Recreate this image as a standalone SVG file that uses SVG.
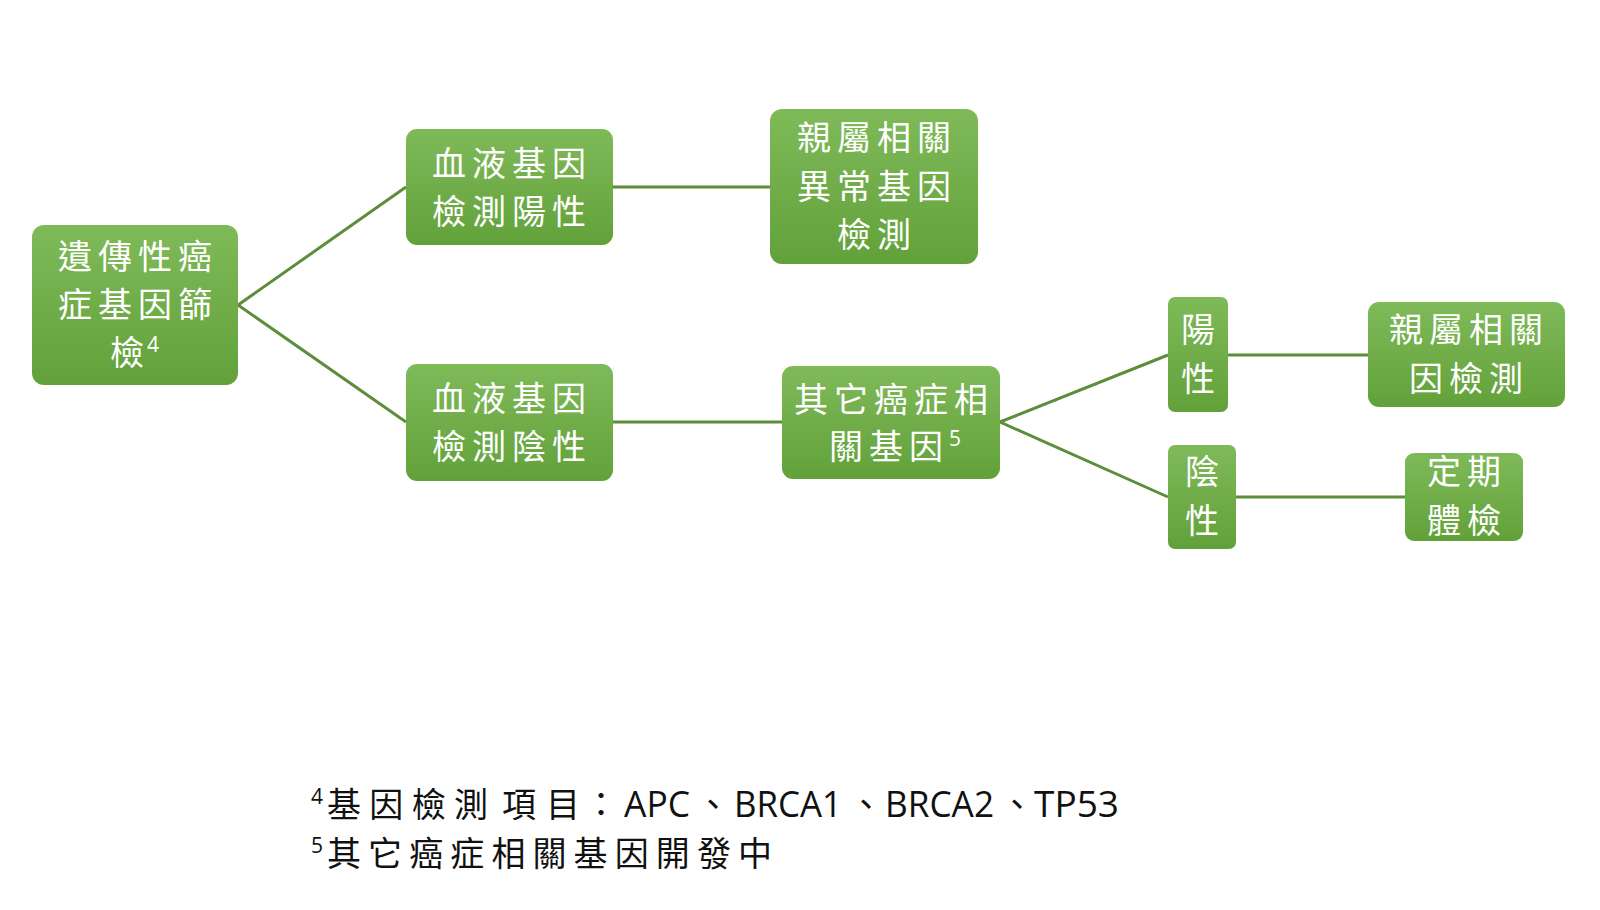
<svg xmlns="http://www.w3.org/2000/svg" width="1600" height="910" viewBox="0 0 1600 910">
<defs>
<linearGradient id="g" x1="0" y1="0" x2="0" y2="1">
<stop offset="0" stop-color="#7fba59"/>
<stop offset="1" stop-color="#62a13a"/>
</linearGradient>
</defs>
<style>
.box{fill:url(#g);}
.t{font-family:"Noto Sans CJK TC","Noto Sans CJK SC",sans-serif;font-size:34px;fill:#ffffff;letter-spacing:6px;text-anchor:middle;}
.ts{font-family:"Noto Sans CJK TC","Noto Sans CJK SC",sans-serif;font-size:34px;fill:#ffffff;letter-spacing:6px;}
.sup{font-family:"Open Sans","Liberation Sans",sans-serif;font-size:21px;fill:#ffffff;}
.c{stroke:#5b8e3b;stroke-width:3;fill:none;}
.f{font-family:"Noto Sans CJK TC","Noto Sans CJK SC",sans-serif;font-size:34px;fill:#111111;}
.fl{font-family:"Open Sans","Liberation Sans",sans-serif;font-size:36px;}
.fs{font-family:"Open Sans","Liberation Sans",sans-serif;font-size:21px;fill:#111111;}
</style>
<rect width="1600" height="910" fill="#ffffff"/>
<g id="connectors">
<line class="c" x1="238" y1="305" x2="406" y2="187"/>
<line class="c" x1="238" y1="305" x2="406" y2="422"/>
<line class="c" x1="613" y1="187" x2="770" y2="187"/>
<line class="c" x1="613" y1="422" x2="782" y2="422"/>
<line class="c" x1="1000" y1="422" x2="1168" y2="355"/>
<line class="c" x1="1000" y1="422" x2="1168" y2="497"/>
<line class="c" x1="1228" y1="355" x2="1368" y2="355"/>
<line class="c" x1="1236" y1="497" x2="1405" y2="497"/>
</g>
<g id="root">
<rect class="box" x="32" y="225" width="206" height="160" rx="12"/>
<text class="t" x="138" y="269">遺傳性癌</text>
<text class="t" x="138" y="317">症基因篩</text>
<text class="ts" x="110" y="365">檢</text>
<text class="sup" x="147" y="352">4</text>
</g>
<g id="blood-positive">
<rect class="box" x="406" y="129" width="207" height="116" rx="11"/>
<text class="t" x="512" y="176">血液基因</text>
<text class="t" x="512" y="224">檢測陽性</text>
</g>
<g id="blood-negative">
<rect class="box" x="406" y="364" width="207" height="117" rx="11"/>
<text class="t" x="512" y="411">血液基因</text>
<text class="t" x="512" y="459">檢測陰性</text>
</g>
<g id="relative-abnormal">
<rect class="box" x="770" y="109" width="208" height="155" rx="12"/>
<text class="t" x="877" y="150">親屬相關</text>
<text class="t" x="877" y="199">異常基因</text>
<text class="t" x="877" y="247">檢測</text>
</g>
<g id="other-cancer">
<rect class="box" x="782" y="366" width="218" height="113" rx="11"/>
<text class="t" x="894" y="412">其它癌症相</text>
<text class="ts" x="829" y="459">關基因</text>
<text class="sup" x="949" y="446">5</text>
</g>
<g id="positive">
<rect class="box" x="1168" y="297" width="60" height="115" rx="7"/>
<text class="t" x="1201" y="342">陽</text>
<text class="t" x="1201" y="391">性</text>
</g>
<g id="negative">
<rect class="box" x="1168" y="445" width="68" height="104" rx="7"/>
<text class="t" x="1205" y="484">陰</text>
<text class="t" x="1205" y="533">性</text>
</g>
<g id="relative-test">
<rect class="box" x="1368" y="302" width="197" height="105" rx="11"/>
<text class="t" x="1469" y="342">親屬相關</text>
<text class="t" x="1469" y="391">因檢測</text>
</g>
<g id="checkup">
<rect class="box" x="1405" y="453" width="118" height="88" rx="9"/>
<text class="t" x="1467" y="484">定期</text>
<text class="t" x="1467" y="533">體檢</text>
</g>
<g id="footnotes">
<text class="fs" x="311" y="804">4</text>
<text class="f" y="817"><tspan x="327" textLength="161" lengthAdjust="spacing">基因檢測</tspan><tspan x="502" textLength="78" lengthAdjust="spacing">項目</tspan><tspan x="584">：</tspan><tspan class="fl" x="624" textLength="66" lengthAdjust="spacingAndGlyphs">APC</tspan><tspan x="696">、</tspan><tspan class="fl" x="734" textLength="108" lengthAdjust="spacingAndGlyphs">BRCA1</tspan><tspan x="849">、</tspan><tspan class="fl" x="885" textLength="109" lengthAdjust="spacingAndGlyphs">BRCA2</tspan><tspan x="1000">、</tspan><tspan class="fl" x="1034" textLength="85" lengthAdjust="spacingAndGlyphs">TP53</tspan></text>
<text class="fs" x="311" y="853">5</text>
<text class="f" x="327" y="866" textLength="445" lengthAdjust="spacing">其它癌症相關基因開發中</text>
</g>
</svg>
